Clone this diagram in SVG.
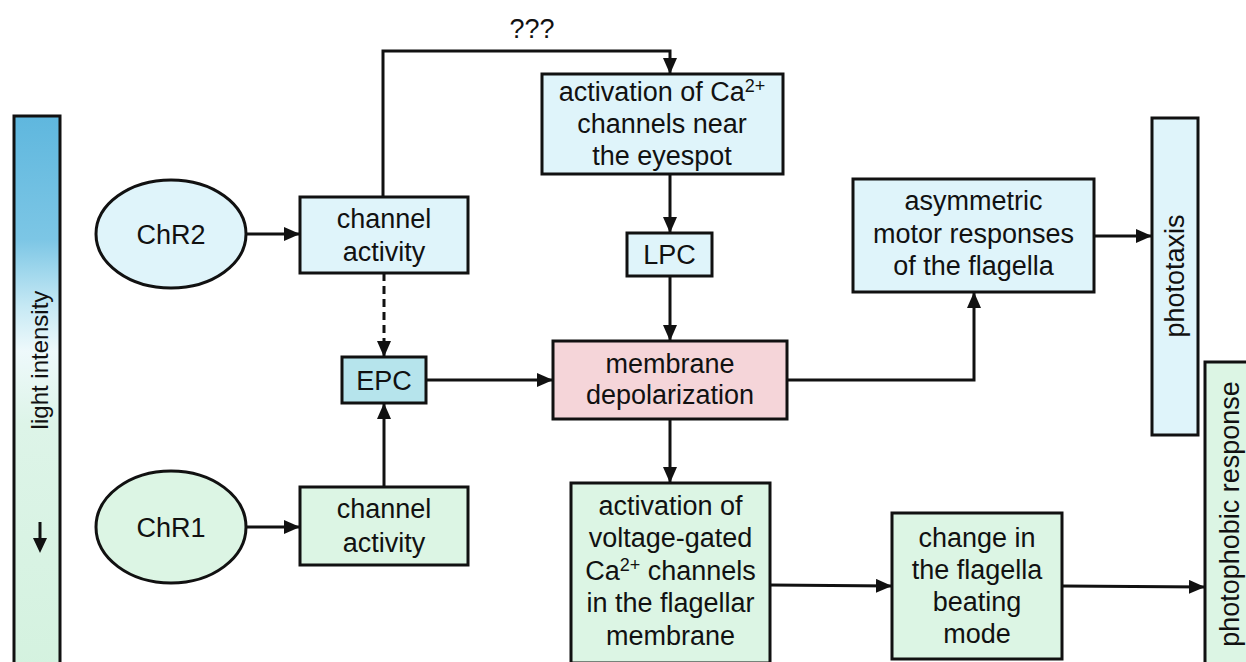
<svg xmlns="http://www.w3.org/2000/svg" width="1246" height="662" viewBox="0 0 1246 662">
<style>
text{font-family:"Liberation Sans",Arial,sans-serif;font-size:27px;fill:#111;text-anchor:middle}
.b{stroke:#111;stroke-width:3}
.blue{fill:#dff4fa}
.green{fill:#dcf5e4}
.pink{fill:#f5d5d9}
.epc{fill:#b6e4ec}
.c{fill:none;stroke:#111;stroke-width:3}
.sup{font-size:18px}
</style>
<defs>
<linearGradient id="lg" x1="0" y1="0" x2="0" y2="1">
<stop offset="0" stop-color="#5fb7de"/>
<stop offset="0.22" stop-color="#7cc6e5"/>
<stop offset="0.34" stop-color="#c6e9f4"/>
<stop offset="0.42" stop-color="#eef9fb"/>
<stop offset="0.55" stop-color="#ddf4e8"/>
<stop offset="1" stop-color="#d4f2df"/>
</linearGradient>
<marker id="ah" viewBox="0 0 16 14" refX="16" refY="7" markerWidth="16" markerHeight="14" markerUnits="userSpaceOnUse" orient="auto">
<path d="M0,0 L16,7 L0,14 Z" fill="#111"/>
</marker>
</defs>

<g id="light-bar">
<rect x="14" y="116" width="46" height="560" fill="url(#lg)" class="b"/>
<text transform="translate(48,360) rotate(-90)" style="font-size:24px">light intensity</text>
<line x1="40" y1="522" x2="40" y2="540" class="c"/>
<path d="M33,538 L47,538 L40,553 Z" fill="#111"/>
</g>

<g id="chr2">
<ellipse cx="171" cy="234" rx="75" ry="54" class="b blue"/>
<text x="171" y="244">ChR2</text>
</g>
<g id="chr1">
<ellipse cx="171" cy="527" rx="75" ry="56" class="b green"/>
<text x="171" y="537">ChR1</text>
</g>

<g id="channel-activity-2">
<rect x="300" y="197" width="168" height="76" class="b blue"/>
<text x="384" y="228">channel</text>
<text x="384" y="261">activity</text>
</g>
<g id="channel-activity-1">
<rect x="300" y="487" width="168" height="78" class="b green"/>
<text x="384" y="518">channel</text>
<text x="384" y="552">activity</text>
</g>

<g id="epc">
<rect x="342" y="357" width="84" height="46" class="b epc"/>
<text x="384" y="390">EPC</text>
</g>

<g id="ca-eyespot">
<rect x="542" y="74" width="241" height="100" class="b blue"/>
<text x="662" y="101">activation of Ca<tspan class="sup" dy="-9">2+</tspan></text>
<text x="662" y="133">channels near</text>
<text x="662" y="165">the eyespot</text>
</g>

<g id="lpc">
<rect x="627" y="233" width="85" height="43" class="b blue"/>
<text x="669.5" y="264">LPC</text>
</g>

<g id="depolarization">
<rect x="553" y="341" width="234" height="78" class="b pink"/>
<text x="670" y="373">membrane</text>
<text x="670" y="404">depolarization</text>
</g>

<g id="voltage-gated">
<rect x="571" y="483" width="199" height="180" class="b green"/>
<text x="670.5" y="515">activation of</text>
<text x="670.5" y="547">voltage-gated</text>
<text x="670.5" y="580">Ca<tspan class="sup" dy="-9">2+</tspan><tspan dy="9"> channels</tspan></text>
<text x="670.5" y="612">in the flagellar</text>
<text x="670.5" y="645">membrane</text>
</g>

<g id="asymmetric">
<rect x="853" y="179" width="241" height="113" class="b blue"/>
<text x="973.5" y="210">asymmetric</text>
<text x="973.5" y="243">motor responses</text>
<text x="973.5" y="275">of the flagella</text>
</g>

<g id="change">
<rect x="892" y="513" width="170" height="146" class="b green"/>
<text x="977" y="547">change in</text>
<text x="977" y="579">the flagella</text>
<text x="977" y="611">beating</text>
<text x="977" y="643">mode</text>
</g>

<g id="phototaxis">
<rect x="1152" y="118" width="46" height="317" class="b blue"/>
<text transform="translate(1184,276) rotate(-90)">phototaxis</text>
</g>

<g id="photophobic">
<rect x="1205" y="362" width="48" height="320" class="b green"/>
<text transform="translate(1239,514) rotate(-90)">photophobic response</text>
</g>

<g id="connectors">
<line x1="246" y1="234" x2="300" y2="234" class="c" marker-end="url(#ah)"/>
<polyline points="383,197 383,51 670,51 670,74" class="c" marker-end="url(#ah)"/>
<text x="532" y="38">???</text>
<line x1="384" y1="273" x2="384" y2="357" class="c" stroke-dasharray="8,5" marker-end="url(#ah)"/>
<line x1="246" y1="527" x2="300" y2="527" class="c" marker-end="url(#ah)"/>
<line x1="384" y1="487" x2="384" y2="403" class="c" marker-end="url(#ah)"/>
<line x1="426" y1="380" x2="553" y2="380" class="c" marker-end="url(#ah)"/>
<line x1="670" y1="174" x2="670" y2="233" class="c" marker-end="url(#ah)"/>
<line x1="670" y1="276" x2="670" y2="341" class="c" marker-end="url(#ah)"/>
<polyline points="787,380 974,380 974,292" class="c" marker-end="url(#ah)"/>
<line x1="1094" y1="236" x2="1152" y2="236" class="c" marker-end="url(#ah)"/>
<line x1="670" y1="419" x2="670" y2="483" class="c" marker-end="url(#ah)"/>
<line x1="770" y1="585" x2="892" y2="586" class="c" marker-end="url(#ah)"/>
<line x1="1062" y1="586" x2="1205" y2="587" class="c" marker-end="url(#ah)"/>
</g>
</svg>
